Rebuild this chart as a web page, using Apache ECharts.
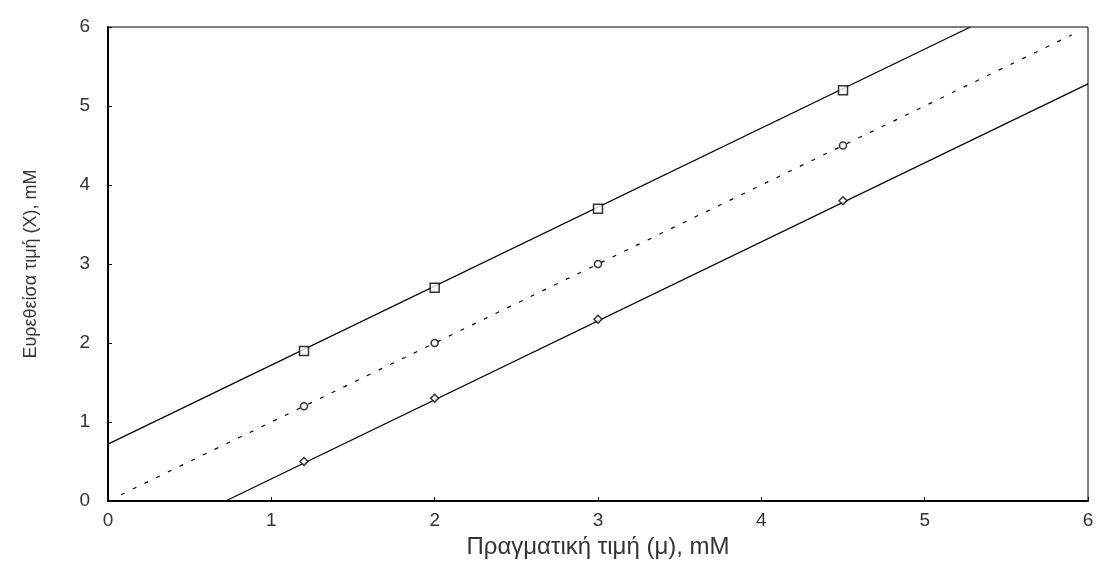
<!DOCTYPE html>
<html>
<head>
<meta charset="utf-8">
<script src="https://cdn.jsdelivr.net/npm/echarts@6/dist/echarts.min.js"></script>
<style>
  html, body { margin: 0; padding: 0; background: #fff; }
  #chart { width: 1115px; height: 572px; }
</style>
</head>
<body>
<div id="chart"></div>
<script>
// measured points
const xPoints = [1.2, 2, 3, 4.5];
const upperPoints = [1.9, 2.7, 3.7, 5.2];
const midPoints = [1.2, 2.0, 3.0, 4.5];
const lowerPoints = [0.5, 1.3, 2.3, 3.8];

// fitted lines (end points)
const upperLineX = [0, 5.28];
const upperLineY = [0.72, 6];
const midLineX = [0.08, 5.9];
const midLineY = [0.08, 5.9];
const lowerLineX = [0.72, 6];
const lowerLineY = [0, 5.28];

const xTicks = [0, 1, 2, 3, 4, 5, 6];
const yTicks = [0, 1, 2, 3, 4, 5, 6];

const zip = (a, b) => a.map((v, i) => [v, b[i]]);

const font = 'Liberation Sans, Arial, sans-serif';
const chart = echarts.init(document.getElementById('chart'));

function lineSeries(xs, ys, dashed) {
  return {
    type: 'line',
    data: zip(xs, ys),
    showSymbol: false,
    silent: true,
    lineStyle: { color: '#000', width: 1.2, type: dashed ? [4, 9] : 'solid' },
    z: 2
  };
}
function pointSeries(ys, symbol, size) {
  return {
    type: 'scatter',
    data: zip(xPoints, ys),
    symbol: symbol,
    symbolSize: size,
    itemStyle: { color: '#fff', borderColor: '#000', borderWidth: 1.5 },
    z: 3
  };
}

chart.setOption({
  animation: false,
  backgroundColor: '#fff',
  grid: {
    left: 108, right: 27, top: 27, bottom: 71,
    show: true, borderColor: '#000', borderWidth: 1
  },
  xAxis: {
    type: 'value',
    min: xTicks[0], max: xTicks[xTicks.length - 1], interval: 1,
    name: 'Πραγματική τιμή (μ), mM',
    nameLocation: 'middle', nameGap: 34,
    nameTextStyle: { fontFamily: font, fontSize: 24, color: '#333' },
    axisLine: { lineStyle: { color: '#000', width: 2 } },
    axisTick: { inside: true, length: 4, lineStyle: { color: '#000' } },
    axisLabel: { fontFamily: font, fontSize: 19, color: '#333', margin: 10 },
    splitLine: { show: false }
  },
  yAxis: {
    type: 'value',
    min: yTicks[0], max: yTicks[yTicks.length - 1], interval: 1,
    name: 'Ευρεθείσα τιμή (Χ), mM',
    nameLocation: 'middle', nameGap: 68,
    nameTextStyle: { fontFamily: font, fontSize: 18, color: '#333' },
    axisLine: { show: true, lineStyle: { color: '#000', width: 2 } },
    axisTick: { show: true, inside: true, length: 4, lineStyle: { color: '#000' } },
    axisLabel: { fontFamily: font, fontSize: 19, color: '#333', margin: 18 },
    splitLine: { show: false }
  },
  series: [
    lineSeries(upperLineX, upperLineY, false),
    lineSeries(midLineX, midLineY, true),
    lineSeries(lowerLineX, lowerLineY, false),
    pointSeries(upperPoints, 'rect', 9),
    pointSeries(midPoints, 'circle', 7),
    pointSeries(lowerPoints, 'diamond', 8)
  ]
});
</script>
</body>
</html>
